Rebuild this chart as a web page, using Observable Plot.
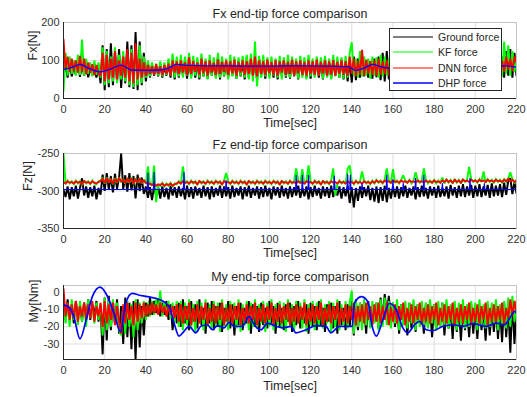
<!DOCTYPE html>
<html><head><meta charset="utf-8">
<script src="https://cdn.jsdelivr.net/npm/d3@7"></script>
<script src="https://cdn.jsdelivr.net/npm/@observablehq/plot@0.6"></script>
<style>
body{margin:0;background:#fff;}
#chart{position:relative;width:527px;height:397px;overflow:hidden;background:#fff;}
#chart svg{display:block;}
</style></head><body><div id="chart"></div>
<script>
const FONT = '"Liberation Sans", Arial, Helvetica, sans-serif';
const seriesNames = ["Ground force","KF force","DNN force","DHP force"];
const seriesColors = ["#000000","#00ff00","#ff0000","#0000ff"];
const panelTitles = ["Fx end-tip force comparison","Fz end-tip force comparison","My end-tip force comparison"];
const yLabels = ["Fx[N]","Fz[N]","My[Nm]"];
const xLabel = "Time[sec]";
const xDomain = [0,220];
const xTicks = [0,20,40,60,80,100,120,140,160,180,200,220];
const fxDomain = [0,200], fxTicks = [0,100,200];
const fzDomain = [-350,-250], fzTicks = [-350,-300,-250];
const myDomain = [-39,4], myTicks = [-30,-20,-10,0];

// ---- Fx [N], one sample per second (t = 0..220)
const fxGround = [
60,88,55,92,58,85,62,95,57,90, 60,84,56,80,62,78,55,85,40,140,
22,130,30,145,35,120,45,130,28,110, 40,150,30,140,25,175,22,150,35,120,
45,95,55,90,60,88,58,92,55,85, 60,90,55,105,50,100,55,98,60,102,
52,95,58,100,55,96,50,105,58,98, 52,100,60,95,55,110,50,100,58,95,
55,102,60,97,52,100,58,95,50,108, 55,100,60,95,48,105,58,100,52,98,
60,95,55,102,50,97,60,100,55,96, 52,103,58,95,50,100,60,98,55,104,
52,96,60,100,55,97,50,102,58,95, 52,100,60,98,55,103,50,97,45,100,
42,110,48,105,55,112,58,100,55,98, 52,105,56,110,48,120,45,125,50,115,
55,100,58,96,52,102,60,98,55,100, 58,97,52,103,60,96,55,100,58,98,
52,102,60,97,55,100,58,96,52,104, 60,98,55,100,58,97,52,103,60,96,
55,100,58,98,52,102,60,97,55,105, 58,100,52,110,55,125,60,130,55,120,
60];
const fxKF = [
20,120,60,110,65,100,60,115,62,155, 60,105,65,95,58,100,62,95,55,135,
35,125,40,110,45,135,40,115,50,125, 45,115,35,130,30,120,35,140,40,110,
55,100,58,95,62,92,60,98,58,95, 62,105,60,118,55,110,58,115,55,110,
60,120,52,112,60,108,55,118,58,105, 50,115,60,108,52,120,55,110,60,105,
50,115,58,110,52,108,60,112,55,115, 50,118,45,150,32,112,55,115,58,108,
52,110,60,105,55,112,50,108,58,115, 55,110,60,105,52,112,55,108,50,115,
58,105,55,110,60,108,52,112,55,105, 50,115,58,110,55,108,52,112,55,120,
148,60,105,55,125,58,110,60,105,52, 110,60,108,55,115,58,110,60,105,55,
100,62,108,58,112,55,105,60,110,57, 108,55,112,60,105,58,110,55,108,60,
112,56,105,60,110,55,108,58,112,60, 105,55,110,58,108,60,112,55,105,58,
110,60,108,55,112,58,105,60,110,55, 108,60,115,58,150,65,140,60,125,70,
105];
const fxDNN = [
155,75,110,70,105,72,100,68,112,70, 105,65,95,68,90,62,88,65,60,120,
45,115,50,105,55,125,50,100,60,110, 55,130,45,120,40,145,50,105,55,95,
60,88,65,85,62,90,65,85,62,88, 65,92,60,100,68,98,65,100,68,95,
62,108,65,98,70,95,62,105,66,98, 60,100,68,95,62,102,65,97,70,100,
62,98,66,102,60,96,68,100,62,98, 65,105,60,110,58,100,65,98,62,102,
66,96,62,100,60,98,68,100,62,97, 65,102,60,98,66,100,62,96,60,100,
65,98,62,102,60,97,66,100,60,98, 63,101,60,97,65,100,62,98,60,110,
65,105,58,100,62,128,60,102,65,98, 62,100,60,105,62,98,65,100,60,97,
68,100,62,98,65,102,60,97,66,100, 62,98,65,100,60,97,66,102,62,98,
65,100,60,98,66,102,62,97,65,100, 60,98,66,100,62,97,65,102,60,98,
66,100,62,97,65,102,60,98,66,100, 62,98,68,100,70,110,75,105,72,110,
95];
const fxDHPTime = [0,4,8,12,18,23,28,33,40,47,51,55,60,70,80,90,100,110,120,130,138,142,146,150,154,158,170,180,190,200,210,215,220];
const fxDHPValue = [77,82,90,80,70,78,88,75,74,75,80,90,87,86,86,85,85,86,86,85,84,74,80,90,84,80,82,84,84,85,85,86,82];

// ---- Fz [N]
const fzGround = [
-298,-308,-294,-311,-295,-307,-293,-310,-296,-283, -306,-294,-309,-295,-307,-293,-311,-296,-305,-278,
-300,-276,-298,-280,-302,-277,-297,-282,-250,-298, -279,-301,-276,-299,-280,-310,-278,-300,-282,-304,
-294,-309,-295,-312,-293,-307,-295,-310,-294,-308, -296,-311,-293,-306,-295,-309,-294,-307,-296,-311,
-293,-308,-295,-310,-294,-306,-296,-309,-293,-307, -295,-311,-294,-308,-296,-306,-293,-309,-294,-307,
-295,-310,-293,-308,-296,-306,-294,-311,-295,-307, -293,-309,-296,-306,-294,-310,-295,-308,-293,-307,
-296,-311,-294,-306,-295,-309,-293,-307,-296,-310, -294,-308,-295,-306,-293,-309,-296,-307,-294,-311,
-295,-308,-293,-306,-296,-310,-294,-307,-295,-309, -293,-308,-296,-306,-294,-310,-295,-307,-293,-316,
-295,-322,-296,-313,-294,-309,-295,-307,-293,-312, -296,-314,-294,-316,-295,-313,-293,-315,-296,-310,
-294,-308,-294,-310,-295,-307,-293,-309,-296,-306, -294,-311,-295,-308,-293,-307,-296,-310,-294,-306,
-295,-309,-293,-308,-296,-307,-294,-310,-292,-306, -295,-309,-293,-307,-291,-308,-294,-306,-292,-309,
-293,-307,-291,-308,-294,-306,-292,-309,-290,-307, -293,-306,-291,-308,-289,-305,-286,-283,-304,-288,
-303];
const fzKF = [
-250,-291,-286,-290,-287,-291,-286,-290,-287,-292, -286,-290,-287,-291,-286,-290,-291,-287,-286,-283,
-290,-282,-289,-284,-291,-283,-289,-282,-288,-284, -290,-283,-289,-282,-291,-284,-289,-283,-290,-285,
-290,-267,-291,-293,-266,-315,-292,-293,-289,-294, -290,-293,-289,-294,-290,-291,-287,-291,-267,-290,
-287,-291,-286,-290,-287,-292,-286,-290,-287,-291, -286,-290,-287,-291,-286,-290,-287,-292,-286,-276,
-287,-291,-286,-290,-287,-291,-286,-290,-287,-292, -286,-290,-287,-291,-286,-290,-287,-291,-286,-290,
-287,-291,-286,-290,-287,-292,-286,-290,-287,-291, -286,-290,-287,-270,-286,-290,-271,-291,-287,-266,
-287,-291,-286,-290,-287,-292,-286,-290,-287,-291, -286,-270,-306,-291,-286,-290,-287,-291,-270,-266,
-287,-291,-286,-290,-287,-274,-286,-290,-287,-291, -286,-290,-285,-289,-286,-290,-285,-270,-286,-290,
-271,-289,-286,-290,-285,-279,-286,-289,-285,-290, -286,-275,-285,-289,-286,-270,-285,-290,-286,-289,
-285,-290,-286,-289,-282,-290,-284,-289,-285,-290, -284,-289,-285,-290,-284,-288,-285,-268,-284,-288,
-285,-289,-284,-288,-274,-289,-284,-288,-285,-289, -284,-288,-285,-289,-284,-288,-283,-275,-284,-289,
-285];
const fzDNN = [
-288,-290,-287,-289,-288,-290,-287,-289,-288,-291, -287,-289,-288,-290,-287,-289,-290,-288,-287,-284,
-289,-283,-288,-285,-290,-284,-288,-283,-287,-285, -289,-284,-288,-283,-290,-285,-288,-284,-289,-286,
-289,-291,-290,-292,-290,-293,-291,-292,-290,-293, -291,-292,-290,-293,-291,-290,-288,-290,-287,-289,
-288,-290,-287,-289,-288,-291,-287,-289,-288,-290, -287,-289,-288,-290,-287,-289,-288,-291,-287,-289,
-288,-290,-287,-289,-288,-290,-287,-289,-288,-291, -287,-289,-288,-290,-287,-289,-288,-290,-287,-289,
-288,-290,-287,-289,-288,-291,-287,-289,-288,-290, -287,-289,-288,-290,-287,-289,-288,-290,-287,-289,
-288,-290,-287,-289,-288,-291,-287,-289,-288,-290, -287,-289,-288,-290,-287,-289,-288,-290,-287,-289,
-288,-290,-287,-289,-288,-290,-287,-289,-288,-290, -287,-289,-286,-288,-287,-289,-286,-288,-287,-289,
-286,-288,-287,-289,-286,-288,-287,-289,-286,-288, -287,-289,-286,-288,-287,-289,-286,-288,-287,-289,
-286,-288,-287,-289,-286,-288,-285,-288,-286,-289, -285,-288,-286,-289,-285,-287,-286,-288,-285,-287,
-286,-288,-285,-287,-286,-288,-285,-287,-286,-288, -285,-287,-286,-288,-285,-287,-284,-287,-285,-288,
-286];
const fzDHPBaseline = -298;
const fzDHPSpikeTime = [41,44,58.5,79,113,116,119,131.5,138,139.3,145,157,160,165,171,175,184,197.4,204.4];
const fzDHPSpikeValue = [-276,-275,-275,-286,-279,-279,-279,-280,-278,-279,-290,-279,-285,-290,-283,-279,-290,-283,-290];

// ---- My [Nm]
const myGround = [
-6,-16,-4,-15,-7,-18,-5,-14,-8,-17, -6,-15,-4,-16,-7,-13,-5,-17,-8,-36,
-3,-28,-2,-22,-5,-18,-4,-24,-8,-30, -3,-26,-6,-33,-5,-39,-4,-32,-8,-25,
-6,-14,-3,-13,-5,-12,-4,-14,-6,-13, -5,-16,-7,-22,-8,-18,-6,-20,-4,-18,
-8,-22,-5,-17,-7,-21,-4,-19,-9,-24, -6,-18,-5,-22,-8,-20,-6,-23,-9,-17,
-5,-21,-7,-25,-8,-19,-6,-22,-9,-18, -5,-24,-7,-20,-8,-23,-6,-19,-9,-21,
-5,-18,-8,-24,-6,-20,-9,-22,-7,-17, -6,-23,-8,-19,-5,-21,-9,-18,-7,-24,
-6,-20,-8,-22,-5,-19,-9,-23,-7,-17, -6,-21,-8,-24,-5,-19,-9,-22,-7,-20,
-5,-25,-4,-22,-6,-18,-8,-24,-5,-20, -9,-17,-6,-21,-3,-15,-1,-12,-2,-16,
-6,-20,-8,-24,-7,-19,-9,-25,-6,-21, -8,-23,-7,-18,-9,-24,-6,-20,-8,-26,
-7,-22,-9,-19,-6,-25,-8,-21,-10,-27, -7,-23,-9,-28,-8,-22,-10,-26,-7,-24,
-9,-27,-8,-22,-10,-28,-7,-25,-9,-23, -8,-27,-10,-29,-6,-26,-8,-35,-5,-30,
-9];
const myKF = [
-5,-18,-6,-20,-4,-16,-7,-19,-5,-17, -6,-20,-4,-15,-8,-18,-6,-16,-7,-25,
-3,-22,-5,-20,-4,-18,-6,-22,-25,-8, -24,-5,-20,-7,-26,-4,-22,-6,-18,-5,
-16,-6,-14,-5,-13,-4,-12,1,-14,-6, -13,-5,-15,-6,-17,-5,-20,-5,-22,-6,
-19,-4,-21,-7,-23,-5,-18,-6,-22,-4, -20,-7,-21,-5,-19,-6,-23,-4,-20,-7,
-22,-5,-18,-6,-21,-4,-23,-7,-19,-5, -22,-6,-20,-4,-21,-7,-18,-5,-23,-6,
-20,-4,-22,-7,-19,-5,-21,-6,-23,-4, -20,-7,-22,-5,-18,-6,-21,-4,-23,-7,
-19,-5,-22,-6,-20,-4,-21,-7,-18,-5, -23,-6,-20,-4,-22,-7,-19,-5,-21,-6,
1,-24,-5,-20,-6,-22,-4,-19,-7,-21, -5,-18,-6,-22,-4,-20,-3,-19,-5,-21,
-6,-18,-4,-22,-7,-19,-5,-21,-6,-18, -4,-22,-7,-20,-5,-19,-6,-21,-4,-18,
-7,-22,-5,-20,-6,-19,-4,-21,-7,-18, -5,-22,-6,-19,-4,-21,-7,-20,-5,-18,
-6,-22,-4,-19,-7,-21,-5,-20,-6,-18, -4,-22,-7,-19,-5,-21,-3,-20,-2,-17,
-5];
const myDNN = [
2,-14,-6,-16,-7,-15,-5,-17,-8,-14, -6,-16,-7,-15,-5,-17,-8,-14,-6,-20,
-5,-18,-7,-16,-6,-19,-8,-17,-24,-7, -18,-6,-16,-8,-19,-6,-17,-7,-15,-6,
-14,-7,-13,-6,-12,-7,-13,-6,-12,-8, -14,-7,-13,-8,-15,-7,-17,-7,-18,-8,
-16,-6,-19,-9,-17,-7,-18,-8,-16,-6, -19,-9,-17,-7,-18,-8,-16,-6,-19,-9,
-17,-7,-18,-8,-16,-6,-19,-9,-17,-7, -18,-8,-16,-6,-19,-9,-17,-7,-18,-8,
-16,-6,-19,-9,-17,-7,-18,-8,-16,-6, -19,-9,-17,-7,-18,-8,-16,-6,-19,-9,
-17,-7,-18,-8,-16,-6,-19,-9,-17,-7, -18,-8,-16,-6,-19,-9,-17,-7,-18,-8,
-16,-6,-19,-8,-17,-7,-18,-6,-16,-8, -19,-7,-17,-6,-18,-8,-16,-6,-19,-9,
-17,-7,-18,-8,-16,-6,-19,-9,-17,-7, -18,-8,-16,-6,-19,-9,-17,-7,-18,-8,
-16,-6,-19,-9,-17,-7,-18,-8,-16,-6, -19,-9,-17,-7,-18,-8,-16,-6,-19,-9,
-17,-7,-18,-8,-16,-6,-19,-9,-17,-7, -18,-8,-16,-6,-19,-9,-15,-4,-14,-5,
-12];
const myDHPTime = [0,3,5,8,11,14,17.7,21,24.5,27.7,30.2,33.4,36.6,40.7,47.2,51.3,53.7,56.1,58.5,61,64.2,66.7,69.9,72.3,74.8,78,80.4,82.8,86.9,90.2,92.6,95.9,99.1,103.2,106.4,110.5,112.9,117.8,122.7,127.5,129.9,134,140.2,141.3,144.6,147.8,149.9,151.9,155.1,158.3,161.6,164.8,167.2,170.5,172.9,176.2,179.4,184.3,189.1,194,198.8,205.3,210.2,214.2,216.7,219.1,220];
const myDHPValue = [-7.3,-9,-14,-27,-16,-2.5,3,-1.5,-12,-23,-6.3,-0.6,-1.5,-2.5,-4.4,-8.2,-17.8,-25.4,-22.6,-19.7,-23.5,-19.7,-18.8,-21.7,-19.3,-20.6,-17.4,-19.7,-19.7,-14,-18.8,-21.7,-17.9,-19.7,-20.6,-19.7,-23.5,-21.7,-19.3,-19.7,-23.5,-19.7,-19.7,-6.3,-2.5,-5.4,-19.7,-25.4,-15.9,-6.3,-10.1,-20.6,-23.5,-18.8,-16.9,-21.7,-22.3,-19.7,-18.8,-19.7,-18.2,-19.7,-17.9,-18.8,-15,-11.1,-12];

// ---------- build tables
const sampled = vals => vals.map((v, i) => ({t: i, v}));   // one sample per second
const paired = (ts, vs) => ts.map((t, i) => ({t, v: vs[i]}));
const fzDHP = [{t: xDomain[0], v: fzDHPBaseline}];
fzDHPSpikeTime.forEach((t, i) => {
  fzDHP.push({t: t - 0.25, v: fzDHPBaseline}, {t, v: fzDHPSpikeValue[i]}, {t: t + 0.25, v: fzDHPBaseline});
});
fzDHP.push({t: xDomain[1], v: fzDHPBaseline});

const panels = [
  {height: 131, mt: 22, mb: 33, domain: fxDomain, ticks: fxTicks, title: panelTitles[0], ylab: yLabels[0], ydx: -31, xdy: 24,
   noisy: [fxGround, fxKF, fxDNN], blue: paired(fxDHPTime, fxDHPValue), curve: "monotone-x", bw: 1.3},
  {height: 131, mt: 22, mb: 34, domain: fzDomain, ticks: fzTicks, title: panelTitles[1], ylab: yLabels[1], ydx: -36, xdy: 24,
   noisy: [fzGround, fzKF, fzDNN], blue: fzDHP, curve: "linear", bw: 1.2},
  {height: 135, mt: 23, mb: 38, domain: myDomain, ticks: myTicks, title: panelTitles[2], ylab: yLabels[2], ydx: -30, xdy: 26,
   noisy: [myGround, myKF, myDNN], blue: paired(myDHPTime, myDHPValue), curve: "monotone-x", bw: 1.7}
];

const chart = document.getElementById("chart");
for (const p of panels) {
  const svg = Plot.plot({
    width: 527, height: p.height,
    marginLeft: 63, marginRight: 11, marginTop: p.mt, marginBottom: p.mb,
    style: {fontFamily: FONT, fontSize: "11px", color: "#333333", background: "white", overflow: "visible"},
    x: {domain: xDomain},
    y: {domain: p.domain},
    marks: [
      Plot.gridX(xTicks, {stroke: "#dfdfdf", strokeOpacity: 1}),
      Plot.gridY(p.ticks, {stroke: "#dfdfdf", strokeOpacity: 1}),
      Plot.frame({stroke: "#c4c4c4"}),
      ...p.noisy.map((vals, k) => Plot.line(sampled(vals), {x: "t", y: "v", stroke: seriesColors[k], strokeWidth: 1.95, strokeLinejoin: "miter", strokeMiterlimit: 2, clip: true})),
      Plot.line(p.blue, {x: "t", y: "v", stroke: seriesColors[3], strokeWidth: p.bw, curve: p.curve, clip: true}),
      Plot.ruleX([xDomain[0]], {stroke: "#262626", strokeWidth: 1}),
      Plot.ruleY([p.domain[0]], {stroke: "#262626", strokeWidth: 1}),
      Plot.axisX(xTicks, {tickSize: 0, tickPadding: 7, tickFormat: d => String(d), label: null}),
      Plot.axisY(p.ticks, {tickSize: 0, tickPadding: 4, tickFormat: d => String(d), label: null}),
      Plot.text([p.title], {frameAnchor: "top", dy: -9, lineAnchor: "middle", fontSize: 12.5, fill: "#262626"}),
      Plot.text([xLabel], {frameAnchor: "bottom", dy: p.xdy, lineAnchor: "middle", fontSize: 12.5, fill: "#262626"}),
      Plot.text([p.ylab], {frameAnchor: "left", dx: p.ydx, rotate: -90, lineAnchor: "middle", fontSize: 12.5, fill: "#262626"})
    ]
  });
  chart.appendChild(svg);
}

// legend (MATLAB style box, top right of first axes)
const legend = document.createElement("div");
Object.assign(legend.style, {position: "absolute", left: "389px", top: "28px", width: "113px", height: "63px",
  border: "1px solid #262626", background: "#fff", boxSizing: "border-box", fontFamily: FONT, fontSize: "10.5px", color: "#262626"});
seriesNames.forEach((name, i) => {
  const row = document.createElement("div");
  Object.assign(row.style, {position: "absolute", left: "3px", top: (1 + i * 15.3) + "px", height: "14px", display: "flex", alignItems: "center", whiteSpace: "nowrap"});
  const ns = "http://www.w3.org/2000/svg";
  const sw = document.createElementNS(ns, "svg");
  sw.setAttribute("width", "41"); sw.setAttribute("height", "14");
  const ln = document.createElementNS(ns, "line");
  ln.setAttribute("x1", "0"); ln.setAttribute("x2", "40"); ln.setAttribute("y1", "7"); ln.setAttribute("y2", "7");
  ln.setAttribute("stroke", seriesColors[i]); ln.setAttribute("stroke-width", i === 3 ? "1.5" : "1");
  sw.appendChild(ln);
  const tx = document.createElement("span");
  tx.textContent = name; tx.style.marginLeft = "4px";
  row.appendChild(sw); row.appendChild(tx);
  legend.appendChild(row);
});
chart.appendChild(legend);
</script></body></html>
